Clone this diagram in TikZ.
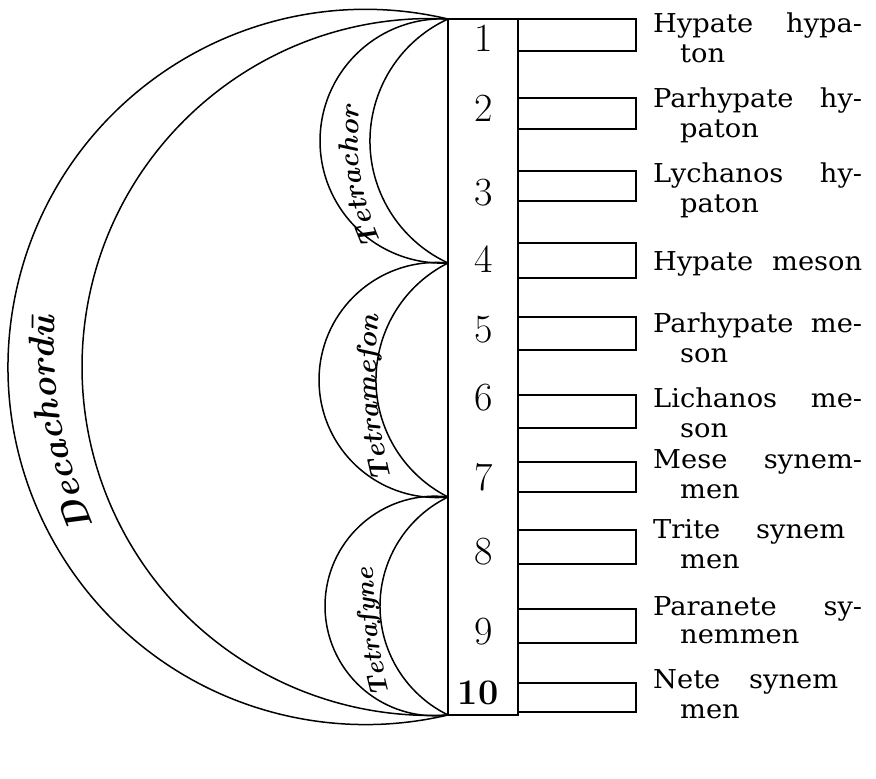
\documentclass[tikz,border=0pt]{standalone}
\usepackage{fontspec}
\usepackage{graphicx}
\usepackage{tikz}
\usetikzlibrary{decorations.text}

\newfontfamily\lblfont{DejaVu Serif}
% wide setting of the names
\newcommand{\wide}[1]{\scalebox{1.05}[1]{#1}}
% justified first line of a label
\newcommand{\fullline}[2][209pt]{\wide{\makebox[\dimexpr#1*100/105\relax][s]{#2}}}
% circular bow from a tip down to the tip below: half chord, depth (px)
\newcommand{\bowarc}[3]{%
  \pgfmathsetmacro\hh{#2/100}%
  \pgfmathsetmacro\ss{#3/100}%
  \pgfmathsetmacro\rr{(\hh*\hh+\ss*\ss)/(2*\ss)}%
  \pgfmathsetmacro\aa{atan2(\hh,\ss-\rr)}%
  \pgfmathsetmacro\bb{360-\aa}%
  \pgfmathsetmacro\rad{100*\rr}%
  \draw[bow] (#1) arc[start angle=\aa, end angle=\bb, radius=\rad];}

\begin{document}
\begin{tikzpicture}[
    x=1pt, y=1pt,
    bow/.style={line width=1.5pt},
    col/.style={draw, line width=1.6pt, minimum width=70pt, minimum height=696pt, inner sep=0pt},
    tab/.style={draw, line width=1.5pt, minimum width=118pt, inner sep=0pt, outer sep=0pt},
    num/.style={font=\fontsize{40}{40}\selectfont},
    lbl/.style={inner sep=0pt, anchor=base west, font=\lblfont\fontsize{26}{30}\selectfont},
  ]
  \useasboundingbox (0,0) rectangle (876,-779);

  % ---- column of strings ----
  \node[col] (col) at (483,-367) {};
  \coordinate (t1) at (448,-19);
  \coordinate (t4) at (448,-263);
  \coordinate (t7) at (448,-497);
  \coordinate (t10) at (448,-715);

  \foreach \i/\y in {1/38, 2/108, 3/193, 4/259, 5/330, 6/398, 7/477, 8/552, 9/632}
    \node[num] (d\i) at (484,-\y) {\i};
  \node[num, font=\fontsize{36}{36}\selectfont\bfseries] (d10) at (478,-693) {10};

  % ---- tabs ----
  \foreach \i/\t/\b in {1/19/51, 2/98/129, 3/171/201, 4/243/278, 5/317/350,
                        6/395/428, 7/462/492, 8/530/564, 9/609/643, 10/683/712}
    \node[tab, minimum height={(\b-\t)*1pt}] (tab\i) at (577,{-(\t+\b)/2}) {};

  % ---- names ----
  \node[lbl] (n1) at (653,-32) {\fullline{Hypate hypa-}};
  \node[lbl] (n1b) at (680,-62) {\wide{ton}};
  \node[lbl] (n2) at (653,-107) {\fullline{Parhypate hy-}};
  \node[lbl] (n2b) at (680,-137) {\wide{paton}};
  \node[lbl] (n3) at (653,-182) {\fullline{Lychanos hy-}};
  \node[lbl] (n3b) at (680,-212) {\wide{paton}};
  \node[lbl] (n4) at (653,-270) {\fullline{Hypate meson}};
  \node[lbl] (n5) at (653,-332) {\fullline{Parhypate me-}};
  \node[lbl] (n5b) at (680,-362) {\wide{son}};
  \node[lbl] (n6) at (653,-407) {\fullline{Lichanos me-}};
  \node[lbl] (n6b) at (680,-437) {\wide{son}};
  \node[lbl] (n7) at (653,-468) {\fullline{Mese synem-}};
  \node[lbl] (n7b) at (680,-498) {\wide{men}};
  \node[lbl] (n8) at (653,-538) {\fullline[192pt]{Trite synem}};
  \node[lbl] (n8b) at (680,-568) {\wide{men}};
  \node[lbl] (n9) at (653,-615) {\fullline{Paranete sy-}};
  \node[lbl] (n9b) at (680,-643) {\wide{nemmen}};
  \node[lbl] (n10) at (653,-688) {\fullline[185pt]{Nete synem}};
  \node[lbl] (n10b) at (680,-718) {\wide{men}};

  % ---- bows ----
  \bowarc{t1}{348}{440}
  \bowarc{t1}{348}{366}
  \bowarc{t1}{122}{128}
  \bowarc{t1}{122}{78}
  \bowarc{t4}{117}{129}
  \bowarc{t4}{117}{72}
  \bowarc{t7}{109}{123}
  \bowarc{t7}{109}{68}

  % ---- bow names ----
  \path[decorate, decoration={text along path, text align=center,
      text={|\fontsize{36}{36}\selectfont\bfseries\itshape|Decachordū}}]
    (100,-540) to[bend left=13] (55,-300);
  \path[decorate, decoration={text along path, text align=center,
      text={|\fontsize{28}{28}\selectfont\bfseries\itshape|Tetrachor}}]
    (388,-256) to[bend left=16] (361,-92);
  \path[decorate, decoration={text along path, text align=center,
      text={|\fontsize{28}{28}\selectfont\bfseries\itshape|Tetrameſon}}]
    (394,-490) to[bend left=10] (380,-304);
  \path[decorate, decoration={text along path, text align=center,
      text={|\fontsize{26}{26}\selectfont\bfseries\itshape|Tetraſyne}}]
    (393,-706) to[bend left=8] (374,-556);
\end{tikzpicture}
\end{document}
